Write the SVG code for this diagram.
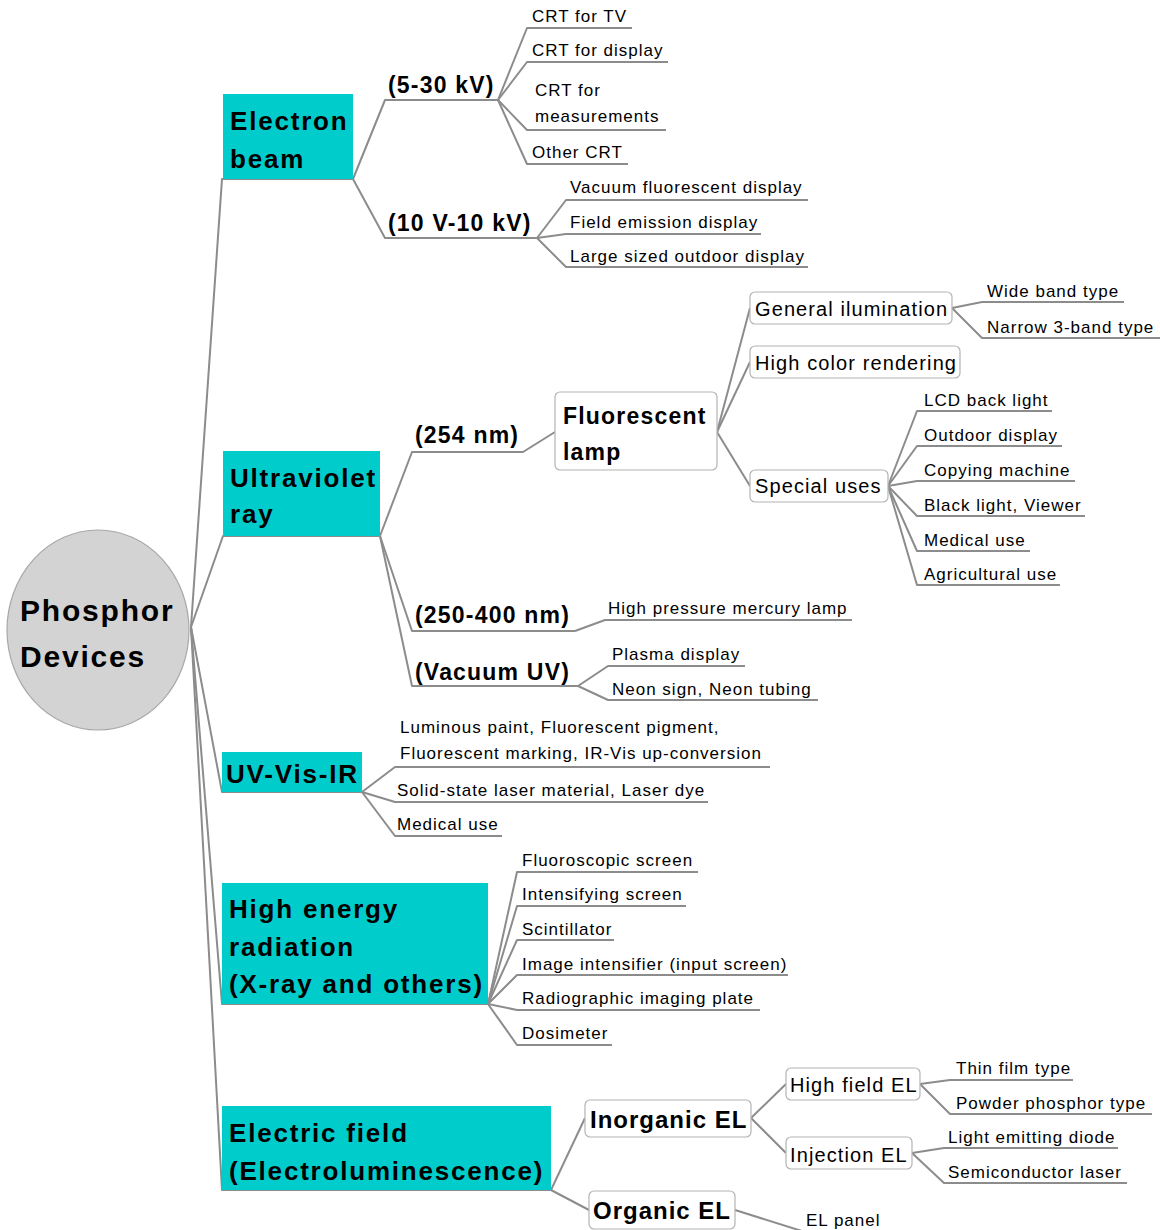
<svg xmlns="http://www.w3.org/2000/svg" width="1160" height="1230" viewBox="0 0 1160 1230">
<style>
.ln{stroke:#8c8c8c;stroke-width:2;fill:none;stroke-linejoin:round}
.main{fill:#00cccc}
.box{fill:#fff;stroke:#b4b4b4;stroke-width:1.2}
text{font-family:"Liberation Sans",Arial,sans-serif;fill:#000}
.root{font-size:30px;font-weight:bold;letter-spacing:1.8px}
.mt{font-size:26px;font-weight:bold;letter-spacing:1.8px}
.sub{font-size:23px;font-weight:bold;letter-spacing:1.2px}
.midb{font-size:23px;font-weight:bold;letter-spacing:1.2px}
.mid{font-size:20px;letter-spacing:1.1px}
.leaf{font-size:17px;letter-spacing:1px}
</style>
<rect width="1160" height="1230" fill="#fff"/>
<g id="connectors">
<path class="ln" d="M191,627 L222,179 L353,179"/>
<path class="ln" d="M191,627 L223,536 L380,536"/>
<path class="ln" d="M191,627 L222,792 L362,792"/>
<path class="ln" d="M191,627 L222,1004 L488,1004"/>
<path class="ln" d="M191,627 L222,1190 L551,1190"/>
<path class="ln" d="M353,179 L385,100 L498,100"/>
<path class="ln" d="M353,179 L385,238 L537,238"/>
<path class="ln" d="M498,100 L527,28 L632,28"/>
<path class="ln" d="M498,100 L527,62 L668,62"/>
<path class="ln" d="M498,100 L527,130 L666,130"/>
<path class="ln" d="M498,100 L527,164 L628,164"/>
<path class="ln" d="M537,238 L566,200 L808,200"/>
<path class="ln" d="M537,238 L566,234 L761,234"/>
<path class="ln" d="M537,238 L566,267 L808,267"/>
<path class="ln" d="M380,536 L412,452 L523,452 L555,432"/>
<path class="ln" d="M380,536 L412,631 L575,631"/>
<path class="ln" d="M380,536 L412,686 L578,686"/>
<path class="ln" d="M717,432 L750,308"/>
<path class="ln" d="M717,432 L750,362"/>
<path class="ln" d="M717,432 L750,486"/>
<path class="ln" d="M952,308 L982,302 L1124,302"/>
<path class="ln" d="M952,308 L982,338 L1160,338"/>
<path class="ln" d="M888,486 L917,411 L1052,411"/>
<path class="ln" d="M888,486 L917,446 L1062,446"/>
<path class="ln" d="M888,486 L917,481 L1075,481"/>
<path class="ln" d="M888,486 L917,516 L1085,516"/>
<path class="ln" d="M888,486 L917,551 L1030,551"/>
<path class="ln" d="M888,486 L917,585 L1060,585"/>
<path class="ln" d="M575,631 L605,620 L852,620"/>
<path class="ln" d="M578,686 L608,666 L745,666"/>
<path class="ln" d="M578,686 L608,700 L818,700"/>
<path class="ln" d="M362,792 L395,767 L770,767"/>
<path class="ln" d="M362,792 L395,802 L708,802"/>
<path class="ln" d="M362,792 L395,836 L502,836"/>
<path class="ln" d="M488,1004 L517,872 L698,872"/>
<path class="ln" d="M488,1004 L517,906 L686,906"/>
<path class="ln" d="M488,1004 L517,940 L614,940"/>
<path class="ln" d="M488,1004 L517,975 L788,975"/>
<path class="ln" d="M488,1004 L517,1010 L760,1010"/>
<path class="ln" d="M488,1004 L517,1045 L612,1045"/>
<path class="ln" d="M551,1190 L585,1118"/>
<path class="ln" d="M551,1190 L589,1210"/>
<path class="ln" d="M751,1118 L786,1084"/>
<path class="ln" d="M751,1118 L786,1153"/>
<path class="ln" d="M920,1084 L950,1080 L1073,1080"/>
<path class="ln" d="M920,1084 L950,1114 L1152,1114"/>
<path class="ln" d="M912,1153 L944,1148 L1118,1148"/>
<path class="ln" d="M912,1153 L944,1183 L1127,1183"/>
<path class="ln" d="M735,1210 L805,1232"/>
</g>
<g id="root">
<ellipse cx="98" cy="630" rx="91" ry="100" fill="#d3d3d3" stroke="#a8a8a8" stroke-width="1.2"/>
<text class="root" x="20" y="621">Phosphor</text>
<text class="root" x="20" y="667">Devices</text>
</g>
<g id="electron-beam">
<rect class="main" x="223" y="94" width="130" height="85"/>
<text class="mt" x="230" y="130">Electron</text>
<text class="mt" x="230" y="168">beam</text>
</g>
<g id="kv-5-30"><text class="sub" x="388" y="93">(5-30 kV)</text></g>
<g id="crt-tv"><text class="leaf" x="532" y="22">CRT for TV</text></g>
<g id="crt-display"><text class="leaf" x="532" y="56">CRT for display</text></g>
<g id="crt-meas"><text class="leaf" x="535" y="96">CRT for</text><text class="leaf" x="535" y="122">measurements</text></g>
<g id="crt-other"><text class="leaf" x="532" y="158">Other CRT</text></g>
<g id="kv-10"><text class="sub" x="388" y="231">(10 V-10 kV)</text></g>
<g id="vfd"><text class="leaf" x="570" y="193">Vacuum fluorescent display</text></g>
<g id="fed"><text class="leaf" x="570" y="228">Field emission display</text></g>
<g id="outdoor-large"><text class="leaf" x="570" y="262">Large sized outdoor display</text></g>
<g id="ultraviolet">
<rect class="main" x="223" y="451" width="157" height="85"/>
<text class="mt" x="230" y="487">Ultraviolet</text>
<text class="mt" x="230" y="523">ray</text>
</g>
<g id="nm-254"><text class="sub" x="415" y="443">(254 nm)</text></g>
<g id="nm-250-400"><text class="sub" x="415" y="623">(250-400 nm)</text></g>
<g id="vacuum-uv"><text class="sub" x="415" y="680">(Vacuum UV)</text></g>
<g id="fluorescent-lamp">
<rect class="box" x="555" y="392" width="162" height="78" rx="5"/>
<text class="midb" x="563" y="424">Fluorescent</text>
<text class="midb" x="563" y="460">lamp</text>
</g>
<g id="general"><rect class="box" x="750" y="292" width="202" height="32" rx="5"/><text class="mid" x="755" y="316">General ilumination</text></g>
<g id="high-color"><rect class="box" x="750" y="346" width="210" height="32" rx="5"/><text class="mid" x="755" y="370">High color rendering</text></g>
<g id="special"><rect class="box" x="750" y="470" width="138" height="32" rx="5"/><text class="mid" x="755" y="493">Special uses</text></g>
<g id="wide-band"><text class="leaf" x="987" y="297">Wide band type</text></g>
<g id="narrow-band"><text class="leaf" x="987" y="333">Narrow 3-band type</text></g>
<g id="lcd"><text class="leaf" x="924" y="406">LCD back light</text></g>
<g id="outdoor"><text class="leaf" x="924" y="441">Outdoor display</text></g>
<g id="copying"><text class="leaf" x="924" y="476">Copying machine</text></g>
<g id="black-light"><text class="leaf" x="924" y="511">Black light, Viewer</text></g>
<g id="medical-fl"><text class="leaf" x="924" y="546">Medical use</text></g>
<g id="agri"><text class="leaf" x="924" y="580">Agricultural use</text></g>
<g id="hp-mercury"><text class="leaf" x="608" y="614">High pressure mercury lamp</text></g>
<g id="plasma"><text class="leaf" x="612" y="660">Plasma display</text></g>
<g id="neon"><text class="leaf" x="612" y="695">Neon sign, Neon tubing</text></g>
<g id="uv-vis-ir">
<rect class="main" x="222" y="752" width="140" height="40"/>
<text class="mt" x="226" y="783">UV-Vis-IR</text>
</g>
<g id="luminous"><text class="leaf" x="400" y="733">Luminous paint, Fluorescent pigment,</text><text class="leaf" x="400" y="759">Fluorescent marking, IR-Vis up-conversion</text></g>
<g id="laser"><text class="leaf" x="397" y="796">Solid-state laser material, Laser dye</text></g>
<g id="medical-uv"><text class="leaf" x="397" y="830">Medical use</text></g>
<g id="high-energy">
<rect class="main" x="222" y="883" width="266" height="121"/>
<text class="mt" x="229" y="918">High energy</text>
<text class="mt" x="229" y="956">radiation</text>
<text class="mt" x="229" y="993">(X-ray and others)</text>
</g>
<g id="fluoroscopic"><text class="leaf" x="522" y="866">Fluoroscopic screen</text></g>
<g id="intensifying"><text class="leaf" x="522" y="900">Intensifying screen</text></g>
<g id="scintillator"><text class="leaf" x="522" y="935">Scintillator</text></g>
<g id="image-int"><text class="leaf" x="522" y="970">Image intensifier (input screen)</text></g>
<g id="radiographic"><text class="leaf" x="522" y="1004">Radiographic imaging plate</text></g>
<g id="dosimeter"><text class="leaf" x="522" y="1039">Dosimeter</text></g>
<g id="electric-field">
<rect class="main" x="222" y="1106" width="329" height="84"/>
<text class="mt" x="229" y="1142">Electric field</text>
<text class="mt" x="229" y="1180">(Electroluminescence)</text>
</g>
<g id="inorganic"><rect class="box" x="585" y="1100" width="166" height="37" rx="5"/><text class="midb" x="590" y="1128" style="font-size:24px;letter-spacing:1px">Inorganic EL</text></g>
<g id="organic"><rect class="box" x="589" y="1191" width="146" height="38" rx="5"/><text class="midb" x="593" y="1219" style="font-size:24px;letter-spacing:1px">Organic EL</text></g>
<g id="high-field"><rect class="box" x="786" y="1068" width="134" height="32" rx="5"/><text class="mid" x="790" y="1092">High field EL</text></g>
<g id="injection"><rect class="box" x="786" y="1137" width="126" height="32" rx="5"/><text class="mid" x="790" y="1162">Injection EL</text></g>
<g id="thin-film"><text class="leaf" x="956" y="1074">Thin film type</text></g>
<g id="powder"><text class="leaf" x="956" y="1109">Powder phosphor type</text></g>
<g id="led"><text class="leaf" x="948" y="1143">Light emitting diode</text></g>
<g id="semi-laser"><text class="leaf" x="948" y="1178">Semiconductor laser</text></g>
<g id="el-panel"><text class="leaf" x="806" y="1226">EL panel</text></g>
</svg>
